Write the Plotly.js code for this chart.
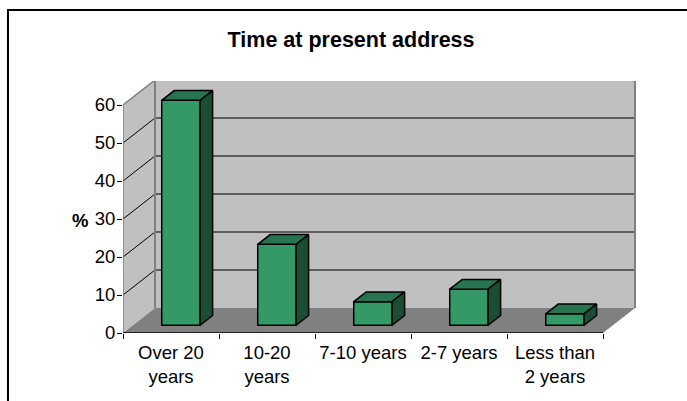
<!DOCTYPE html>
<html><head><meta charset="utf-8">
<script src="https://cdn.plot.ly/plotly-3.0.1.min.js"></script>
<style>html,body{margin:0;padding:0;background:#fff;overflow:hidden}#c{width:687px;height:401px}</style>
</head><body><div id="c"></div>
<script>
const categories = ["Over 20<br>years","10-20<br>years","7-10 years","2-7 years","Less than<br>2 years"];
const values = [59.2, 21.3, 6.2, 9.5, 3];
const valueTicks = [0,10,20,30,40,50,60];
const chartTitle = "Time at present address";
const axisLabel = "%";

const depthX = 1/3, depthY = 6.58;
const nearD = 0.31, farD = 0.70, halfW = 0.2;
const n = categories.length, yMax = 60;
const FONT = '"Liberation Sans", Arial, sans-serif';
const px = (x,d)=>x+d*depthX, py=(y,d)=>y+d*depthY;
const poly=(pts,fill)=>({type:'path',xref:'x',yref:'y',layer:'below',line:{width:0},fillcolor:fill,
  path:'M'+pts.map(p=>px(p[0],p[2])+','+py(p[1],p[2])).join('L')+'Z'});
const seg=(a,b,color,width)=>({type:'line',xref:'x',yref:'y',layer:'below',line:{color,width},
  x0:px(a[0],a[2]),y0:py(a[1],a[2]),x1:px(b[0],b[2]),y1:py(b[1],b[2])});

const shapes=[
  poly([[0,0,0],[0,0,1],[0,yMax,1],[0,yMax,0]],'#C0C0C0'),
  poly([[0,0,1],[n,0,1],[n,yMax,1],[0,yMax,1]],'#C0C0C0'),
  poly([[0,0,0],[n,0,0],[n,0,1],[0,0,1]],'#808080'),
];
valueTicks.forEach(v=>{
  if(v>0 && v<yMax) shapes.push(seg([0,v,0],[0,v,1],'#000',1));
  if(v>0 && v<yMax) shapes.push(seg([0,v,1],[n,v,1],'#3c3c3c',1.5));
});
shapes.push(seg([0,yMax,0],[0,yMax,1],'#808080',1.5));
shapes.push(seg([0,yMax,1],[n,yMax,1],'#808080',2));
shapes.push(seg([0,0,1],[0,yMax,1],'#808080',2));
shapes.push(seg([n,0,1],[n,yMax,1],'#808080',2));
shapes.push(seg([0,0,0],[0,yMax,0],'#808080',1.5));
shapes.push(seg([0,0,0],[n,0,0],'#000',1.5));
// outer frame, running off the page at right and bottom
shapes.push({type:'path',xref:'paper',yref:'paper',layer:'above',line:{color:'#000',width:2},
  path:'M-0.2242,-1 L-0.2242,1.2817 L1.2,1.2817'});

const topX=[],topY=[],sideX=[],sideY=[];
values.forEach((v,i)=>{
  const c=i+0.5,L=c-halfW,R=c+halfW;
  [[L,v,nearD],[R,v,nearD],[R,v,farD],[L,v,farD],[L,v,nearD]].forEach(p=>{topX.push(px(p[0],p[2]));topY.push(py(p[1],p[2]));});
  topX.push(null);topY.push(null);
  [[R,0,nearD],[R,v,nearD],[R,v,farD],[R,0,farD],[R,0,nearD]].forEach(p=>{sideX.push(px(p[0],p[2]));sideY.push(py(p[1],p[2]));});
  sideX.push(null);sideY.push(null);
});
const edge={color:'#000',width:1.5};
const data=[
 {type:'bar',x:values.map((v,i)=>px(i+0.5,nearD)),y:values,base:py(0,nearD),width:halfW*2,
  marker:{color:'#339966',line:edge},hoverinfo:'y',showlegend:false},
 {type:'scatter',mode:'lines',x:topX,y:topY,fill:'toself',fillcolor:'#267350',line:edge,hoverinfo:'skip',showlegend:false},
 {type:'scatter',mode:'lines',x:sideX,y:sideY,fill:'toself',fillcolor:'#1A4D33',line:edge,hoverinfo:'skip',showlegend:false},
];
const layout={
 width:687,height:401,paper_bgcolor:'#fff',plot_bgcolor:'rgba(0,0,0,0)',showlegend:false,
 margin:{l:123,r:51,t:81,b:68,pad:0},
 title:{text:chartTitle,font:{family:FONT,size:21.5,color:'#000',weight:700},x:0.511,xanchor:'center',y:0.9025,yanchor:'middle'},
 xaxis:{range:[0,513/96],tickmode:'array',tickvals:categories.map((_,i)=>i+0.5),ticktext:categories,
   ticks:'',showgrid:false,zeroline:false,showline:false,tickangle:0,ticklabelstandoff:6,
   tickfont:{family:FONT,size:18.5,color:'#000'},automargin:false,
   minor:{tickmode:'array',tickvals:categories.map((_,i)=>i).concat([n]),ticks:'outside',ticklen:5,tickwidth:1,tickcolor:'#000',showgrid:false}},
 yaxis:{range:[0,252/3.8],tickmode:'array',tickvals:valueTicks,ticks:'outside',ticklen:5,tickwidth:1,tickcolor:'#000',
   ticklabelstandoff:-2,ticklabelshift:-1.5,
   showgrid:false,zeroline:false,showline:false,tickfont:{family:FONT,size:18.5,color:'#000'},automargin:false},
 shapes,
 annotations:[
  {text:axisLabel,xref:'paper',yref:'paper',x:-0.084,y:0.445,xanchor:'center',yanchor:'middle',showarrow:false,
   font:{family:FONT,size:18.5,color:'#000',weight:700}},
 ],
};
Plotly.newPlot('c',data,layout,{displayModeBar:false,staticPlot:true});
</script></body></html>
